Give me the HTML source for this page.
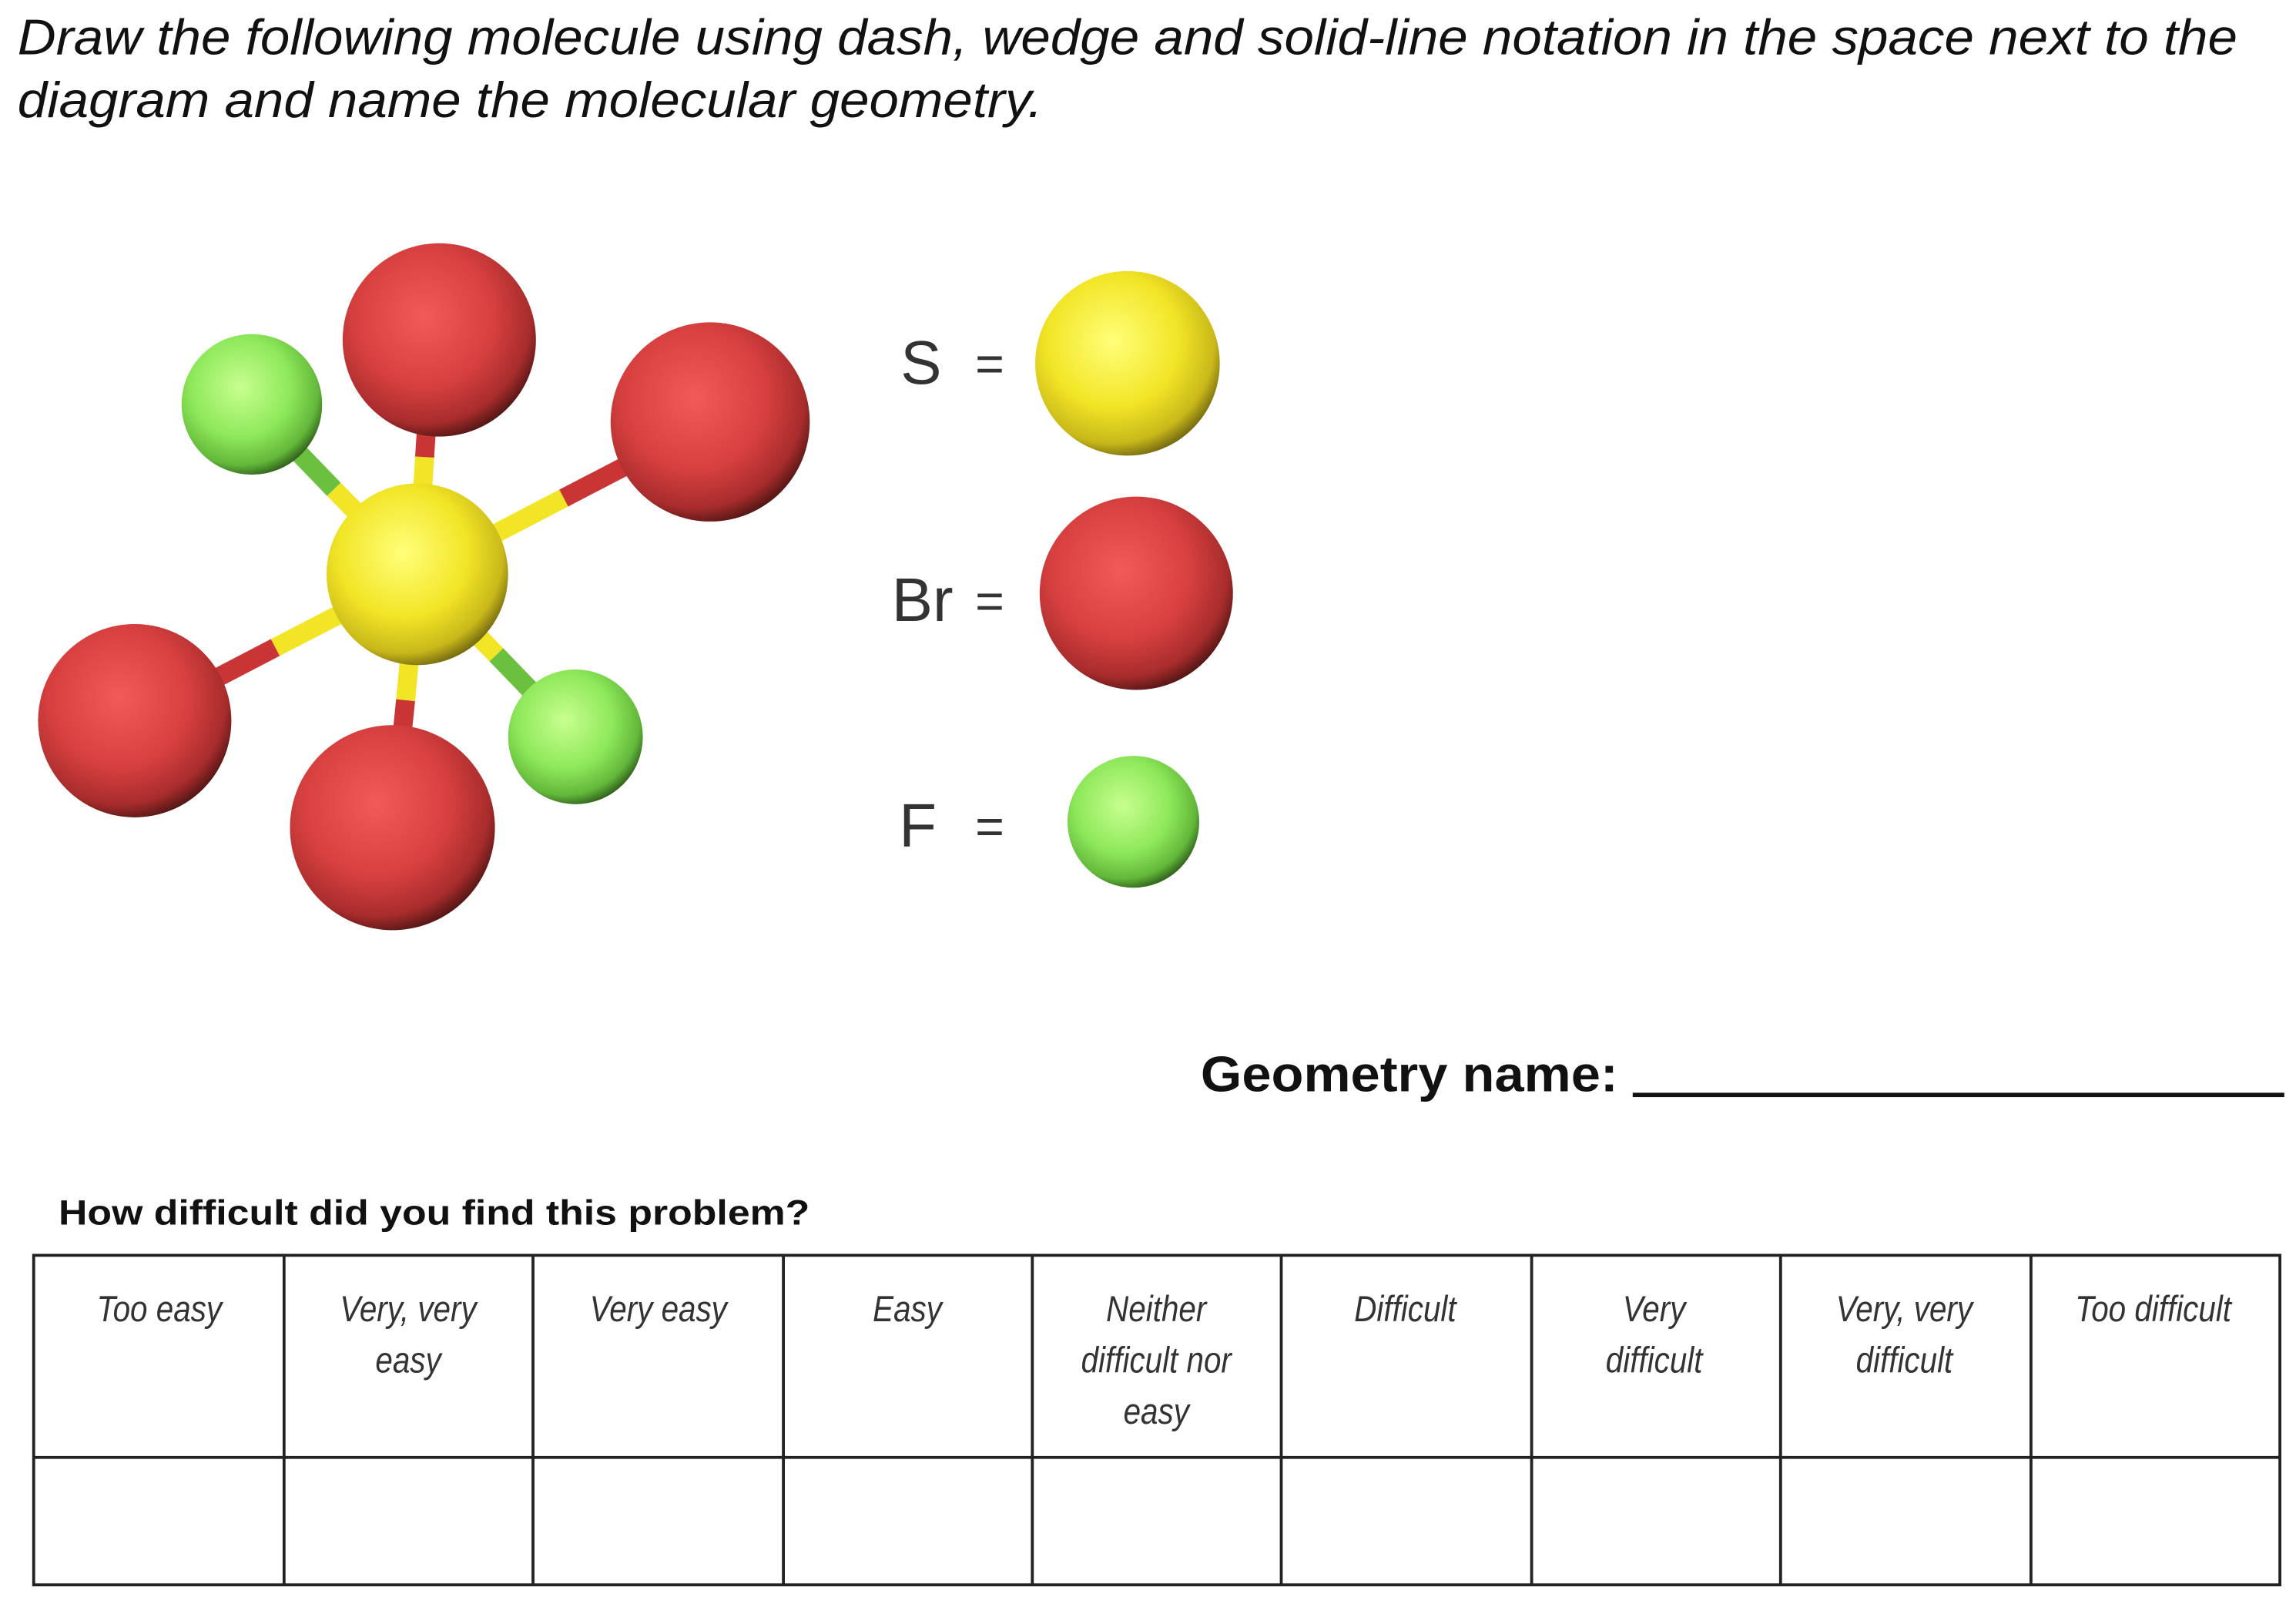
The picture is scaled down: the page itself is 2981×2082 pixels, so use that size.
<!DOCTYPE html>
<html><head><meta charset="utf-8"><style>html,body{margin:0;padding:0;background:#fff}svg{display:block}</style></head>
<body>
<svg width="2981" height="2082" viewBox="0 0 1568 1095" xmlns="http://www.w3.org/2000/svg">
<defs>
<radialGradient id="gy" cx="0.42" cy="0.38" r="0.65"><stop offset="0" stop-color="#ffff7a"/><stop offset="0.55" stop-color="#f2e526"/><stop offset="0.85" stop-color="#c9b81a"/><stop offset="1" stop-color="#6e6410"/></radialGradient>
<radialGradient id="gr" cx="0.42" cy="0.38" r="0.65"><stop offset="0" stop-color="#f25a5a"/><stop offset="0.55" stop-color="#d84040"/><stop offset="0.85" stop-color="#a82c2c"/><stop offset="1" stop-color="#4e1414"/></radialGradient>
<radialGradient id="gg" cx="0.42" cy="0.38" r="0.65"><stop offset="0" stop-color="#c8ff90"/><stop offset="0.55" stop-color="#8ee85a"/><stop offset="0.85" stop-color="#62b83a"/><stop offset="1" stop-color="#2e5a1a"/></radialGradient>
</defs>
<rect width="1568" height="1095" fill="#fff"/>
<g font-family="Liberation Sans, sans-serif" font-style="italic" font-size="34" fill="#111">
<text x="12" y="37" textLength="1516" lengthAdjust="spacingAndGlyphs">Draw the following molecule using dash, wedge and solid-line notation in the space next to the</text>
<text x="12" y="80" textLength="700" lengthAdjust="spacingAndGlyphs">diagram and name the molecular geometry.</text>
</g>
<!-- bonds -->
<g stroke-width="13" stroke-linecap="butt">
<line x1="285" y1="392" x2="290" y2="312" stroke="#f2e526"/><line x1="290" y1="312" x2="295" y2="232" stroke="#c93535"/>
<line x1="285" y1="392" x2="228" y2="334" stroke="#f2e526"/><line x1="228" y1="334" x2="172" y2="276" stroke="#6cc040"/>
<line x1="285" y1="392" x2="385" y2="340" stroke="#f2e526"/><line x1="385" y1="340" x2="485" y2="288" stroke="#c93535"/>
<line x1="285" y1="392" x2="188" y2="442" stroke="#f2e526"/><line x1="188" y1="442" x2="92" y2="492" stroke="#c93535"/>
<line x1="285" y1="392" x2="277" y2="478" stroke="#f2e526"/><line x1="277" y1="478" x2="268" y2="565" stroke="#c93535"/>
<line x1="285" y1="392" x2="339" y2="447" stroke="#f2e526"/><line x1="339" y1="447" x2="393" y2="503" stroke="#6cc040"/>
</g>
<circle cx="300" cy="232" r="66" fill="url(#gr)"/>
<circle cx="172" cy="276" r="48" fill="url(#gg)"/>
<circle cx="485" cy="288" r="68" fill="url(#gr)"/>
<circle cx="285" cy="392" r="62" fill="url(#gy)"/>
<circle cx="92" cy="492" r="66" fill="url(#gr)"/>
<circle cx="268" cy="565" r="70" fill="url(#gr)"/>
<circle cx="393" cy="503" r="46" fill="url(#gg)"/>
<!-- legend -->
<g font-family="Liberation Sans, sans-serif" font-size="42" fill="#333">
<text x="615" y="262">S</text><text x="666" y="260" font-size="34">=</text>
<text x="609" y="424">Br</text><text x="666" y="422" font-size="34">=</text>
<text x="614" y="578">F</text><text x="666" y="576" font-size="34">=</text>
</g>
<circle cx="770" cy="248" r="63" fill="url(#gy)"/>
<circle cx="776" cy="405" r="66" fill="url(#gr)"/>
<circle cx="774" cy="561" r="45" fill="url(#gg)"/>
<text x="820" y="745" font-family="Liberation Sans, sans-serif" font-weight="bold" font-size="34" fill="#111" textLength="285" lengthAdjust="spacingAndGlyphs">Geometry name:</text>
<rect x="1115" y="746" width="445" height="3" fill="#111"/>
<text x="40" y="836" font-family="Liberation Sans, sans-serif" font-weight="bold" font-size="24" fill="#111" textLength="513" lengthAdjust="spacingAndGlyphs">How difficult did you find this problem?</text>
<!-- table -->
<g stroke="#222" stroke-width="2" fill="none">
<rect x="23" y="857" width="1534" height="225"/>
<line x1="23" y1="995" x2="1557" y2="995"/>
<line x1="194" y1="857" x2="194" y2="1082"/><line x1="364" y1="857" x2="364" y2="1082"/>
<line x1="535" y1="857" x2="535" y2="1082"/><line x1="705" y1="857" x2="705" y2="1082"/>
<line x1="875" y1="857" x2="875" y2="1082"/><line x1="1046" y1="857" x2="1046" y2="1082"/>
<line x1="1216" y1="857" x2="1216" y2="1082"/><line x1="1387" y1="857" x2="1387" y2="1082"/>
</g>
<g font-family="Liberation Sans, sans-serif" font-style="italic" font-size="25" fill="#333" text-anchor="middle" transform="translate(0,0)">
<g transform="scale(0.85,1)">
<text x="128" y="902">Too easy</text>
<text x="328" y="902">Very, very</text><text x="328" y="937">easy</text>
<text x="529" y="902">Very easy</text>
<text x="729" y="902">Easy</text>
<text x="929" y="902">Neither</text><text x="929" y="937">difficult nor</text><text x="929" y="972">easy</text>
<text x="1129" y="902">Difficult</text>
<text x="1329" y="902">Very</text><text x="1329" y="937">difficult</text>
<text x="1530" y="902">Very, very</text><text x="1530" y="937">difficult</text>
<text x="1730" y="902">Too difficult</text>
</g>
</g>
</svg>
</body></html>
